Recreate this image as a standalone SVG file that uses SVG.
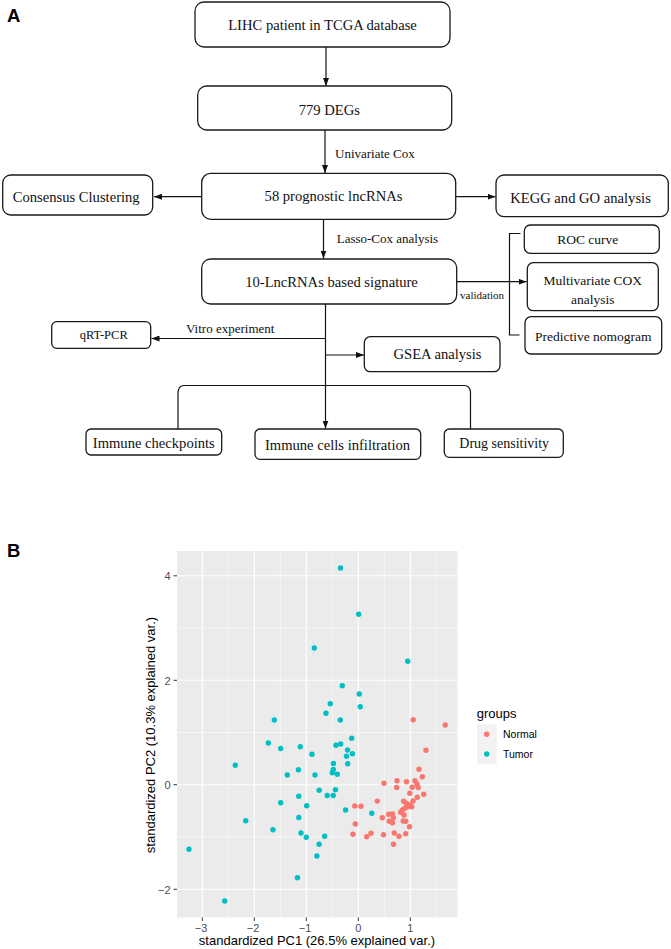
<svg xmlns="http://www.w3.org/2000/svg" width="671" height="949" viewBox="0 0 671 949">
<style>
.bg{fill:#fff}
.box{fill:#fff;stroke:#1a1a1a;stroke-width:1.3}
.t{font-family:"Liberation Serif","Times New Roman",serif;font-size:14.6px;fill:#111;text-anchor:middle;dominant-baseline:central}
.lab{font-family:"Liberation Serif","Times New Roman",serif;font-size:13px;fill:#111;dominant-baseline:central}
.ln{stroke:#111;stroke-width:1.2;fill:none}
.pl{font-family:"Liberation Sans",Arial,sans-serif;fill:#000}
.tick{font-family:"Liberation Sans",Arial,sans-serif;font-size:11px;fill:#4d4d4d;dominant-baseline:central}
.gmaj{stroke:#fff;stroke-width:1.1}
.gmin{stroke:#fff;stroke-width:0.55}
.tm{stroke:#333;stroke-width:1}
.cy{fill:#00BFC4}
.rd{fill:#F8766D}
</style>
<defs>
<marker id="ah" viewBox="0 0 8 6" refX="8" refY="3" markerWidth="8" markerHeight="6" markerUnits="userSpaceOnUse" orient="auto">
<path d="M0,0 L8,3 L0,6 z" fill="#111"/>
</marker>
</defs>
<rect class="bg" x="0" y="0" width="671" height="949"/>

<text x="7" y="21.7" class="pl" style="font-size:18.5px;font-weight:bold">A</text>

<g id="connectors">
<line class="ln" x1="326" y1="47" x2="326" y2="86" marker-end="url(#ah)"/>
<line class="ln" x1="325" y1="130" x2="325" y2="173" marker-end="url(#ah)"/>
<line class="ln" x1="201.7" y1="196.7" x2="154" y2="196.7" marker-end="url(#ah)"/>
<line class="ln" x1="455.7" y1="196.7" x2="495.5" y2="196.7" marker-end="url(#ah)"/>
<line class="ln" x1="323.5" y1="219.3" x2="323.5" y2="258.5" marker-end="url(#ah)"/>
<line class="ln" x1="456.7" y1="281.7" x2="526.5" y2="281.7" marker-end="url(#ah)"/>
<path class="ln" d="M520.5,233.5 L509.5,233.5 L509.5,335 L519.5,335"/>
<line class="ln" x1="325.5" y1="304" x2="325.5" y2="428.5" marker-end="url(#ah)"/>
<line class="ln" x1="325.5" y1="338.5" x2="151.5" y2="338.5" marker-end="url(#ah)"/>
<line class="ln" x1="325.5" y1="355" x2="364" y2="355" marker-end="url(#ah)"/>
<path class="ln" d="M178,429 L178,393 Q178.3,385.5 184,385.5 L464.5,385.5 Q470.2,385.5 470.5,393 L470.5,429"/>
<text class="lab" x="335" y="153.3">Univariate Cox</text>
<text class="lab" x="336.7" y="238.3">Lasso-Cox analysis</text>
<text class="lab" x="460" y="295" style="font-size:11px">validation</text>
<text class="lab" x="186" y="328.3">Vitro experiment</text>
</g>

<g id="n-lihc"><rect class="box" x="195" y="2" width="255" height="45" rx="9"/><text class="t" x="322.5" y="25">LIHC patient in TCGA database</text></g>
<g id="n-degs"><rect class="box" x="197.7" y="86" width="254" height="44" rx="9"/><text class="t" x="329.3" y="109.5">779 DEGs</text></g>
<g id="n-58"><rect class="box" x="201.7" y="173.3" width="254" height="46" rx="9"/><text class="t" x="333.5" y="195.5">58 prognostic lncRNAs</text></g>
<g id="n-cons"><rect class="box" x="2.7" y="175" width="150" height="40" rx="8"/><text class="t" x="76.2" y="196.5">Consensus Clustering</text></g>
<g id="n-kegg"><rect class="box" x="496" y="175" width="172.3" height="41.7" rx="8"/><text class="t" x="580.5" y="197.5">KEGG and GO analysis</text></g>
<g id="n-sig"><rect class="box" x="201.7" y="259" width="255" height="45" rx="9"/><text class="t" x="331.5" y="281.7">10-LncRNAs based signature</text></g>
<g id="n-roc"><rect class="box" x="524.3" y="225" width="135" height="28.3" rx="6"/><text class="t" x="587.7" y="239" style="font-size:13.5px">ROC curve</text></g>
<g id="n-multi"><rect class="box" x="527.3" y="262.7" width="131" height="48" rx="6"/><text class="t" x="592.7" y="280" style="font-size:13.5px">Multivariate COX</text><text class="t" x="592.7" y="299" style="font-size:13.5px">analysis</text></g>
<g id="n-nomo"><rect class="box" x="525" y="316.7" width="136.7" height="37.3" rx="6"/><text class="t" x="593.3" y="336" style="font-size:13.5px">Predictive nomogram</text></g>
<g id="n-qrt"><rect class="box" x="51.7" y="321.7" width="99" height="26.6" rx="5"/><text class="t" x="103.7" y="335" style="font-size:12.5px">qRT-PCR</text></g>
<g id="n-gsea"><rect class="box" x="364.3" y="336.7" width="135.7" height="35" rx="6"/><text class="t" x="437.5" y="354">GSEA analysis</text></g>
<g id="n-ichk"><rect class="box" x="86" y="429" width="135.7" height="26" rx="5"/><text class="t" x="153.8" y="442.5">Immune checkpoints</text></g>
<g id="n-icell"><rect class="box" x="255" y="429" width="165.7" height="30.3" rx="5"/><text class="t" x="337.5" y="445">Immune cells infiltration</text></g>
<g id="n-drug"><rect class="box" x="444.3" y="429" width="119" height="28.3" rx="5"/><text class="t" x="504.2" y="443.3" style="font-size:14px">Drug sensitivity</text></g>

<text x="7" y="557" class="pl" style="font-size:18.5px;font-weight:bold">B</text>

<g id="pca-plot">
<rect x="177" y="551" width="280.5" height="366.5" fill="#EBEBEB"/>
<g class="gmin">
<line x1="228.3" y1="551" x2="228.3" y2="917.5"/><line x1="280.3" y1="551" x2="280.3" y2="917.5"/><line x1="332.3" y1="551" x2="332.3" y2="917.5"/><line x1="384.3" y1="551" x2="384.3" y2="917.5"/><line x1="436.3" y1="551" x2="436.3" y2="917.5"/>
<line x1="177" y1="628.0" x2="457.5" y2="628.0"/><line x1="177" y1="732.5" x2="457.5" y2="732.5"/><line x1="177" y1="837.0" x2="457.5" y2="837.0"/>
</g>
<g class="gmaj">
<line x1="202.3" y1="551" x2="202.3" y2="917.5"/><line x1="254.3" y1="551" x2="254.3" y2="917.5"/><line x1="306.3" y1="551" x2="306.3" y2="917.5"/><line x1="358.3" y1="551" x2="358.3" y2="917.5"/><line x1="410.3" y1="551" x2="410.3" y2="917.5"/>
<line x1="177" y1="575.8" x2="457.5" y2="575.8"/><line x1="177" y1="680.3" x2="457.5" y2="680.3"/><line x1="177" y1="784.7" x2="457.5" y2="784.7"/><line x1="177" y1="889.3" x2="457.5" y2="889.3"/>
</g>
<g class="tm">
<line x1="173.5" y1="575.8" x2="177" y2="575.8"/><line x1="173.5" y1="680.3" x2="177" y2="680.3"/><line x1="173.5" y1="784.7" x2="177" y2="784.7"/><line x1="173.5" y1="889.3" x2="177" y2="889.3"/>
<line x1="202.3" y1="917.5" x2="202.3" y2="921"/><line x1="254.3" y1="917.5" x2="254.3" y2="921"/><line x1="306.3" y1="917.5" x2="306.3" y2="921"/><line x1="358.3" y1="917.5" x2="358.3" y2="921"/><line x1="410.3" y1="917.5" x2="410.3" y2="921"/>
</g>
<g class="tick" text-anchor="end">
<text x="170.5" y="576">4</text><text x="170.5" y="680.5">2</text><text x="170.5" y="785">0</text><text x="170.5" y="889.5">−2</text>
</g>
<g class="tick" text-anchor="middle">
<text x="201" y="928">−3</text><text x="253" y="928">−2</text><text x="305" y="928">−1</text><text x="358.3" y="928">0</text><text x="410.3" y="928">1</text>
</g>
<text class="pl" x="317" y="945" text-anchor="middle" style="font-size:13px">standardized PC1 (26.5% explained var.)</text>
<text class="pl" transform="translate(154.5,735) rotate(-90)" text-anchor="middle" style="font-size:13px">standardized PC2 (10.3% explained var.)</text>

<g class="cy">
<circle cx="340.5" cy="568" r="2.7"/><circle cx="358.7" cy="614.3" r="2.7"/><circle cx="314.3" cy="648" r="2.7"/><circle cx="407.7" cy="661.3" r="2.7"/>
<circle cx="342.3" cy="685.7" r="2.7"/><circle cx="359.3" cy="694" r="2.7"/><circle cx="330.3" cy="703.7" r="2.7"/><circle cx="360.3" cy="706.7" r="2.7"/>
<circle cx="326" cy="713.3" r="2.7"/><circle cx="340.3" cy="720" r="2.7"/><circle cx="274.3" cy="720" r="2.7"/><circle cx="351.7" cy="738.3" r="2.7"/>
<circle cx="268.3" cy="743" r="2.7"/><circle cx="280.7" cy="748.5" r="2.7"/><circle cx="300.3" cy="746.7" r="2.7"/><circle cx="336" cy="745.3" r="2.7"/>
<circle cx="340.7" cy="744" r="2.7"/><circle cx="347.5" cy="750" r="2.7"/><circle cx="352.5" cy="753.7" r="2.7"/><circle cx="312" cy="754.3" r="2.7"/>
<circle cx="346.5" cy="756.3" r="2.7"/><circle cx="347.7" cy="763.7" r="2.7"/><circle cx="333.5" cy="763.5" r="2.7"/><circle cx="235.3" cy="765.3" r="2.7"/>
<circle cx="298.5" cy="769.7" r="2.7"/><circle cx="333.3" cy="769.5" r="2.7"/><circle cx="332.3" cy="772.7" r="2.7"/><circle cx="337.3" cy="774.3" r="2.7"/>
<circle cx="287.3" cy="775" r="2.7"/><circle cx="315" cy="775" r="2.7"/><circle cx="319.2" cy="790.3" r="2.7"/><circle cx="335.5" cy="789.7" r="2.7"/>
<circle cx="327.2" cy="795.5" r="2.7"/><circle cx="333.2" cy="795.5" r="2.7"/><circle cx="298.8" cy="796.3" r="2.7"/><circle cx="280.7" cy="802.7" r="2.7"/>
<circle cx="306.7" cy="805.7" r="2.7"/><circle cx="345.6" cy="810" r="2.7"/><circle cx="371.8" cy="813.3" r="2.7"/><circle cx="298.8" cy="817.5" r="2.7"/>
<circle cx="245.7" cy="820.8" r="2.7"/><circle cx="273" cy="829.7" r="2.7"/><circle cx="301" cy="833" r="2.7"/><circle cx="306.3" cy="837.3" r="2.7"/>
<circle cx="324.7" cy="836.3" r="2.7"/><circle cx="319.1" cy="844.3" r="2.7"/><circle cx="316.9" cy="856" r="2.7"/><circle cx="189" cy="849.3" r="2.7"/>
<circle cx="297.5" cy="877.7" r="2.7"/><circle cx="224.7" cy="901" r="2.7"/>
</g>
<g class="rd">
<circle cx="413.2" cy="719.7" r="2.7"/><circle cx="445.2" cy="725" r="2.7"/><circle cx="426" cy="750.3" r="2.7"/><circle cx="419" cy="769.2" r="2.7"/>
<circle cx="422.3" cy="776.7" r="2.7"/><circle cx="384" cy="783.3" r="2.7"/><circle cx="397" cy="780.7" r="2.7"/><circle cx="406.5" cy="781.8" r="2.7"/>
<circle cx="415" cy="780.8" r="2.7"/><circle cx="417" cy="784" r="2.7"/><circle cx="396.7" cy="787.5" r="2.7"/><circle cx="412.2" cy="787.2" r="2.7"/>
<circle cx="418.2" cy="787.5" r="2.7"/><circle cx="409.8" cy="793.3" r="2.7"/><circle cx="423.8" cy="794.3" r="2.7"/><circle cx="417.3" cy="797.3" r="2.7"/>
<circle cx="377.3" cy="801.1" r="2.7"/><circle cx="403.6" cy="801.1" r="2.7"/><circle cx="413" cy="801" r="2.7"/><circle cx="406.3" cy="803.3" r="2.7"/>
<circle cx="410" cy="805" r="2.7"/><circle cx="407.3" cy="806.7" r="2.7"/><circle cx="411.7" cy="806.7" r="2.7"/><circle cx="405" cy="808.3" r="2.7"/>
<circle cx="402.3" cy="810" r="2.7"/><circle cx="400.7" cy="812.3" r="2.7"/><circle cx="404" cy="815" r="2.7"/><circle cx="354.8" cy="806" r="2.7"/>
<circle cx="361" cy="806.2" r="2.7"/><circle cx="388.7" cy="814.2" r="2.7"/><circle cx="392.5" cy="814" r="2.7"/><circle cx="382.3" cy="817.7" r="2.7"/>
<circle cx="393.3" cy="817.8" r="2.7"/><circle cx="389.2" cy="821.2" r="2.7"/><circle cx="392.5" cy="822.7" r="2.7"/><circle cx="403.2" cy="821" r="2.7"/>
<circle cx="405.7" cy="821.2" r="2.7"/><circle cx="355.3" cy="824" r="2.7"/><circle cx="409.5" cy="826.7" r="2.7"/><circle cx="353" cy="834.3" r="2.7"/>
<circle cx="366.7" cy="836.8" r="2.7"/><circle cx="371" cy="833.3" r="2.7"/><circle cx="383.5" cy="834.8" r="2.7"/><circle cx="394.3" cy="833" r="2.7"/>
<circle cx="399" cy="836.3" r="2.7"/><circle cx="405.7" cy="833.7" r="2.7"/><circle cx="393.5" cy="844.3" r="2.7"/>
</g>
</g>

<g id="legend">
<text class="pl" x="476.7" y="717.5" style="font-size:13px">groups</text>
<rect x="477" y="724.3" width="19.7" height="39.7" fill="#F2F2F2"/>
<circle class="rd" cx="486.7" cy="734.3" r="2.7"/>
<circle class="cy" cx="486.7" cy="754" r="2.7"/>
<text class="pl" x="503" y="738" style="font-size:10.5px">Normal</text>
<text class="pl" x="503" y="757.8" style="font-size:10.5px">Tumor</text>
</g>
</svg>
